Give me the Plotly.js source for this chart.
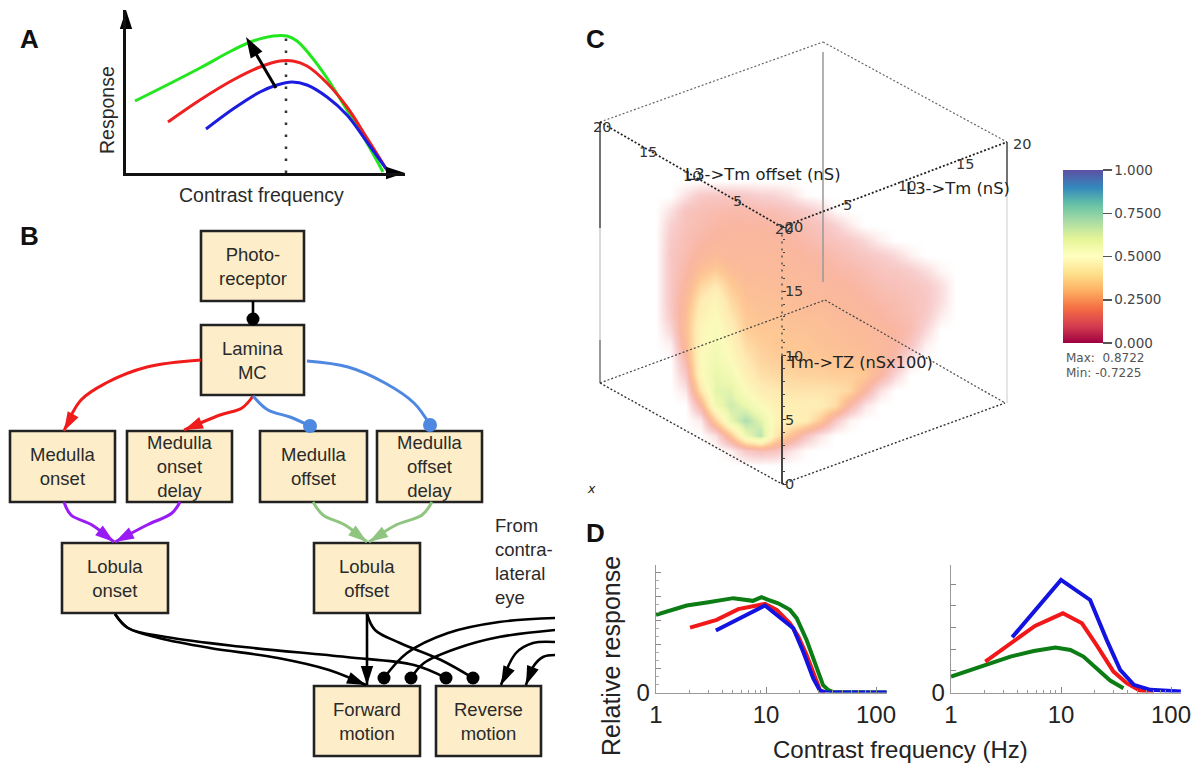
<!DOCTYPE html>
<html><head><meta charset="utf-8">
<script src="https://cdn.plot.ly/plotly-3.0.1.min.js"></script>
<style>html,body{margin:0;padding:0;background:#fff}#chart{width:1200px;height:769px}</style>
</head><body><div id="chart"></div>
<script>
// ---------- Panel A: schematic response curves (axis units run from the origin)
const aGreenX=[9,41,74,107,127,147,161,171,184,201,221,241,257];
const aGreenY=[72,88,105,123,132,137,137,132,118,95,63,30,1];
const aRedX=[42,74,107,134,154,167,181,201,221,241,261];
const aRedY=[51,73,93,106,112,112,107,90,66,35,3];
const aBlueX=[80,107,134,151,166,181,201,221,241,261];
const aBlueY=[44,64,81,88,91,88,76,58,31,3];

// ---------- Panel B: block diagram
const boxes=[
 ["Photo-<br>receptor",201,304,231,301],["Lamina<br>MC",201,304,325,395],
 ["Medulla<br>onset",10,115,431,502],["Medulla<br>onset<br>delay",127,232,431,502],
 ["Medulla<br>offset",260,367,431,502],["Medulla<br>offset<br>delay",377,482,431,502],
 ["Lobula<br>onset",62,168,543,613],["Lobula<br>offset",314,420,543,613],
 ["Forward<br>motion",314,420,686,756],["Reverse<br>motion",436,541,686,756]];
const links=[
 {c:"#000000",e:"dot",x:[253,253],y:[301,319]},
 {c:"#f01c1c",e:"arrow",x:[201,147,106,81,64],y:[360,367,383,400,431]},
 {c:"#f01c1c",e:"arrow",x:[253,242,220,184],y:[396,408,415,430]},
 {c:"#4f88e0",e:"dot",x:[307,348,385,414,430],y:[361,367,383,403,425]},
 {c:"#4f88e0",e:"dot",x:[253,268,290,310],y:[396,410,417,426]},
 {c:"#9a1cf5",e:"arrow",x:[64,71,92,114],y:[502,515,525,542]},
 {c:"#9a1cf5",e:"arrow",x:[180,172,147,115],y:[502,513,525,542]},
 {c:"#8fc57f",e:"arrow",x:[313,323,345,367],y:[502,515,525,542]},
 {c:"#8fc57f",e:"arrow",x:[432,422,396,369],y:[502,515,525,542]},
 {c:"#000000",e:"arrow",x:[115,128,159,210,278,329,366],y:[614,628,638,648,658,670,685]},
 {c:"#000000",e:"dot",x:[115,128,166,244,346,414,446],y:[614,628,637,647,657,665,678]},
 {c:"#000000",e:"arrow",x:[367,367],y:[614,685]},
 {c:"#000000",e:"dot",x:[367,375,400,441,473],y:[614,630,643,660,678]},
 {c:"#000000",e:"dot",x:[555,499,448,407,384],y:[618,622,633,653,678]},
 {c:"#000000",e:"dot",x:[555,499,458,424,411],y:[630,637,648,663,678]},
 {c:"#000000",e:"arrow",x:[555,533,516,501],y:[642,643,653,685]},
 {c:"#000000",e:"arrow",x:[555,543,533,526],y:[655,657,667,685]}];

// ---------- Panel C: colour cloud on a coarse grid
const cloudX=[640,655,670,685,700,715,730,745,760,775,790,805,820,835,850,865,880,895,910,925,940,955];
const cloudY=[180,195,210,225,240,255,270,285,300,315,330,345,360,375,390,405,420,435,450,465];
const cloudZ=[
[0,0,0,0,0,0,0,0,0,0,0,0,0,0,0,0,0,0,0,0,0,0],
[0,0,0,.06,.12,.13,.13,.12,.1,.09,.06,.01,0,0,0,0,0,0,0,0,0,0],
[0,0,.06,.14,.16,.17,.18,.18,.17,.16,.14,.12,.08,.01,0,0,0,0,0,0,0,0],
[0,0,.1,.15,.17,.19,.2,.2,.2,.19,.18,.16,.14,.1,.04,0,0,0,0,0,0,0],
[0,0,.12,.16,.19,.21,.22,.22,.22,.22,.2,.18,.16,.14,.12,.08,.03,0,0,0,0,0],
[0,0,.13,.17,.22,.25,.23,.23,.23,.23,.22,.2,.19,.17,.15,.13,.11,.08,.03,0,0,0],
[0,0,.13,.19,.27,.31,.26,.24,.24,.24,.23,.22,.21,.19,.18,.16,.14,.13,.11,.07,.02,0],
[0,0,.13,.21,.34,.4,.31,.26,.26,.25,.25,.24,.22,.21,.2,.18,.16,.15,.14,.12,.07,0],
[0,0,.13,.24,.4,.47,.35,.28,.27,.27,.26,.25,.24,.23,.22,.2,.18,.17,.15,.13,.07,0],
[0,0,.12,.26,.44,.5,.39,.3,.28,.28,.27,.26,.26,.24,.23,.22,.2,.18,.16,.12,.04,0],
[0,0,.08,.27,.47,.52,.43,.32,.3,.3,.28,.28,.27,.26,.25,.24,.22,.2,.17,.08,0,0],
[0,0,.03,.25,.48,.54,.47,.36,.32,.3,.3,.29,.28,.27,.26,.25,.23,.2,.13,.03,0,0],
[0,0,0,.18,.5,.56,.5,.4,.34,.32,.31,.3,.3,.29,.28,.27,.24,.17,.05,0,0,0],
[0,0,0,.12,.48,.6,.56,.44,.37,.35,.34,.33,.33,.32,.32,.3,.2,.08,0,0,0,0],
[0,0,0,.05,.38,.62,.62,.5,.42,.4,.38,.38,.38,.37,.34,.2,.06,0,0,0,0,0],
[0,0,0,0,.2,.56,.66,.6,.5,.44,.42,.42,.42,.36,.18,.05,0,0,0,0,0,0],
[0,0,0,0,.04,.32,.6,.72,.62,.46,.45,.42,.3,.12,.02,0,0,0,0,0,0,0],
[0,0,0,0,0,.06,.28,.58,.7,.4,.28,.14,.05,0,0,0,0,0,0,0,0,0],
[0,0,0,0,0,0,.03,.12,.16,.14,.06,.01,0,0,0,0,0,0,0,0,0,0],
[0,0,0,0,0,0,0,0,0,0,0,0,0,0,0,0,0,0,0,0,0,0]];
const spectral=[[0,"#9e0142"],[.1,"#d53e4f"],[.2,"#f46d43"],[.3,"#fdae61"],[.4,"#fee08b"],[.5,"#ffffbf"],[.6,"#e6f598"],[.7,"#abdda4"],[.8,"#66c2a5"],[.9,"#3288bd"],[1,"#5e4fa2"]];
const cloudScale=[[0,"rgba(244,110,100,0)"],[.05,"rgba(235,95,95,.16)"],[.1,"rgba(230,85,85,.28)"],[.2,"rgba(244,109,67,.5)"],[.3,"rgba(253,174,97,.68)"],[.4,"rgba(254,224,139,.66)"],[.5,"rgba(250,250,170,.8)"],[.6,"rgba(230,245,152,.8)"],[.7,"rgba(171,221,164,.85)"],[.8,"rgba(102,194,165,.9)"],[1,"rgba(50,136,189,1)"]];
const cubeEdges=[
 {x:[600,823],y:[122,42],c:"#666",w:1.2},{x:[823,1007],y:[42,142],c:"#666",w:1.2},
 {x:[600,782],y:[122,227],c:"#222",w:1.8},{x:[782,1007],y:[227,142],c:"#222",w:1.8},
 {x:[600,825],y:[383,300],c:"#444",w:1.2},{x:[825,1005],y:[300,403],c:"#444",w:1.2},
 {x:[600,782],y:[383,484],c:"#333",w:1.4},{x:[782,1005],y:[484,403],c:"#333",w:1.4}];
const cubeSolid=[
 {x:[600,600],y:[122,228],c:"#444"},{x:[600,600],y:[228,340],c:"#ccc"},{x:[600,600],y:[340,383],c:"#777"},
 {x:[1007,1007],y:[142,185],c:"#444"},{x:[1007,1007],y:[185,403],c:"#ddd"},{x:[823,823],y:[52,282],c:"#999"}];
const cTicksZ=[0,5,10,15,20];
const cLabels=[["20",602,127],["15",648,152],["10",692,176],["5",737,201],["20",784,229],
 ["5",847,205],["10",907,186],["15",965,164],["20",1022,144]];
const barTicks=[0,.25,.5,.75,1], barLabels=["0.000","0.2500","0.5000","0.7500","1.000"];

// ---------- Panel D: frequency tuning (Hz, relative response)
const d1GreenX=[1,1.9,2.9,5.05,7.6,9.1,10.5,12.9,16.5,19,23.4,28.9,33,37,41,125];
const d1GreenY=[.609,.682,.706,.74,.719,.748,.727,.70,.648,.583,.412,.189,.058,.018,.003,0];
const d1RedX=[2.04,3.56,5.6,9.8,12.5,16.5,19.7,23.4,31,34.5];
const d1RedY=[.509,.57,.654,.695,.648,.543,.438,.294,.018,0];
const d1BlueX=[3.5,9.8,17.7,21.8,26.9,31,35.6,125];
const d1BlueY=[.486,.682,.504,.32,.11,.013,0,0];
const d2GreenX=[1,1.98,3.47,5.65,8.9,12.2,16,21,28,37];
const d2GreenY=[.125,.209,.282,.326,.352,.334,.282,.19,.094,.034];
const d2RedX=[2.05,3.7,5.8,10.4,15.5,21,30,39.6,52,70];
const d2RedY=[.243,.40,.522,.621,.543,.373,.164,.073,.016,0];
const d2BlueX=[3.6,10,18.4,26,34.5,46,65,92,123];
const d2BlueY=[.433,.883,.726,.413,.178,.06,.021,.01,.008];
const freqTicks=[1,10,100], freqLabels=["1","10","100"];
const freqMinor=[2,3,4,5,6,7,8,9,20,30,40,50,60,70,80,90];

const colGreen="#0b7d14",colRed="#f01818",colBlue="#1414e0";
const sans="Liberation Sans, Arial, sans-serif", dv="DejaVu Sans, Verdana, sans-serif";
const dx=p=>p/1200, dy=p=>1-p/769;

const traces=[];
// cube
cubeSolid.forEach(e=>traces.push({type:"scatter",mode:"lines",x:e.x,y:e.y,line:{color:e.c,width:1.5}}));
traces.push({type:"heatmap",x:cloudX,y:cloudY,z:cloudZ,zmin:0,zmax:1,zsmooth:"best",colorscale:cloudScale,showscale:false,hoverinfo:"skip"});
cubeEdges.forEach(e=>traces.push({type:"scatter",mode:"lines",x:e.x,y:e.y,line:{color:e.c,width:e.w,dash:"2px,2px"}}));
traces.push({type:"scatter",mode:"lines",x:[782,782],y:[0,10],yaxis:"y6",line:{color:"#333",width:1.8}});
traces.push({type:"scatter",mode:"lines",x:[782,782],y:[10,20],yaxis:"y6",line:{color:"#555",width:1.5,dash:"2px,5px"}});
// colour bar
traces.push({type:"heatmap",x:[1083,1084],y:[255,256],z:[[0,1],[0,1]],zmin:0,zmax:1,colorscale:spectral,hoverinfo:"skip",
 colorbar:{x:dx(1063),xanchor:"left",xpad:0,y:dy(256.5),yanchor:"middle",ypad:0,len:173,lenmode:"pixels",thickness:40,thicknessmode:"pixels",
  outlinewidth:0,ticks:"outside",ticklen:9,tickwidth:1.5,tickcolor:"#555",tickmode:"array",tickvals:barTicks,ticktext:barLabels,
  tickfont:{family:dv,size:13.5,color:"#444"}}});
// links
links.forEach(l=>{
 const n=l.x.length, sizes=l.x.map((_,i)=>i===n-1?(l.e==="dot"?(l.c==="#000000"?13:14):20):0);
 traces.push({type:"scatter",mode:"lines+markers",x:l.x,y:l.y,cliponaxis:false,
  line:{color:l.c,width:l.c==="#000000"?2.6:3,shape:"spline",smoothing:1},
  marker:{color:l.c,opacity:1,size:sizes,symbol:l.e==="dot"?"circle":"arrow",angleref:"previous",line:{width:0}}});
});
// panel A
const aTrace=(x,y,c)=>({type:"scatter",mode:"lines",x,y,xaxis:"x2",yaxis:"y2",cliponaxis:false,line:{color:c,width:3,shape:"spline",smoothing:1}});
traces.push({type:"scatter",mode:"lines",x:[160,160],y:[0,136],xaxis:"x2",yaxis:"y2",line:{color:"#333",width:2.5,dash:"2.5px,9.5px"}});
traces.push(aTrace(aGreenX,aGreenY,"#22e61e"),aTrace(aRedX,aRedY,"#ee2020"),aTrace(aBlueX,aBlueY,"#1c1ce0"));
traces.push({type:"scatter",mode:"lines+markers",x:[150,120],y:[85,136],xaxis:"x2",yaxis:"y2",cliponaxis:false,line:{color:"#000",width:3},
 marker:{color:"#000",opacity:1,size:[0,22],symbol:"arrow",angleref:"previous",line:{width:0}}});
traces.push({type:"scatter",mode:"markers",x:[279,0],y:[0,163],xaxis:"x2",yaxis:"y2",cliponaxis:false,
 marker:{color:"#000",opacity:1,size:20,symbol:"arrow",angle:[90,0],line:{width:0}}});
// panel D
const dTrace=(x,y,c,ax,ay)=>({type:"scatter",mode:"lines",x,y,xaxis:ax,yaxis:ay,cliponaxis:false,line:{color:c,width:4}});
traces.push(dTrace(d1RedX,d1RedY,colRed,"x3","y3"),dTrace(d1GreenX,d1GreenY,colGreen,"x3","y3"),dTrace(d1BlueX,d1BlueY,colBlue,"x3","y3"));
traces.push(dTrace(d2GreenX,d2GreenY,colGreen,"x4","y4"),dTrace(d2RedX,d2RedY,colRed,"x4","y4"),dTrace(d2BlueX,d2BlueY,colBlue,"x4","y4"));

const anns=[];
const txt=(t,x,y,o={})=>anns.push(Object.assign({text:t,x,y,xref:"x",yref:"y",showarrow:false,xanchor:"center",yanchor:"middle",
 font:Object.assign({family:sans,size:18.5,color:"#2a2a2a"},o.font||{})},o.a||{}));
boxes.forEach(b=>txt(b[0],(b[1]+b[2])/2,(b[3]+b[4])/2));
[["A",29,39],["B",29,236],["C",595,39],["D",595,533]].forEach(p=>txt("<b>"+p[0]+"</b>",p[1],p[2],{font:{size:26,color:"#111"}}));
txt("Contrast frequency",261,195,{font:{size:19.5}});
txt("Response",107,110,{font:{size:19.5},a:{textangle:-90}});
txt("From<br>contra-<br>lateral<br>eye",493,561,{a:{xanchor:"left",align:"left"}});
cLabels.forEach(l=>txt(l[0],l[1],l[2],{font:{family:dv,size:14.5,color:"#333"}}));
txt("L3->Tm offset (nS)",763,174,{font:{family:dv,size:16.4,color:"#222"}});
txt("L3->Tm (nS)",958,188,{font:{family:dv,size:16.4,color:"#222"}});
txt("Tm->TZ (nSx100)",860,362,{font:{family:dv,size:16.2,color:"#222"}});
txt("<i>x</i>",591,488,{font:{family:dv,size:12.5,color:"#222"}});
txt("Max:  0.8722",1064,358,{font:{family:dv,size:12,color:"#555"},a:{xanchor:"left"}});
txt("Min: -0.7225",1064,373,{font:{family:dv,size:12,color:"#555"},a:{xanchor:"left"}});
txt("Relative response",611,656,{font:{size:25,color:"#222"},a:{textangle:-90}});
txt("Contrast frequency (Hz)",900,749,{font:{size:24,color:"#222"}});

const hid={visible:false,fixedrange:true,zeroline:false,showgrid:false};
const freqAxis=(a,b)=>({type:"log",domain:[dx(a),dx(b)],range:[0,(b-a)/110],showline:true,linecolor:"#999",linewidth:1.3,showgrid:false,zeroline:false,
 tickmode:"array",tickvals:freqTicks,ticktext:freqLabels,ticks:"inside",ticklen:6,tickcolor:"#888",tickfont:{family:sans,size:24,color:"#222"},
 minor:{tickmode:"array",tickvals:freqMinor,ticks:"inside",ticklen:3,tickcolor:"#999"},fixedrange:true});
const respAxis=(anchor,major,minorStep)=>({domain:[dy(692.5),dy(565)],range:[0,1],anchor,showline:true,linecolor:"#999",linewidth:1.3,showgrid:false,zeroline:false,
 tickmode:"array",tickvals:major,ticktext:major.map((v,i)=>i?"":"0"),ticks:"inside",ticklen:5,tickcolor:"#888",tickfont:{family:sans,size:24,color:"#222"},
 minor:minorStep?{dtick:minorStep,ticks:"inside",ticklen:3,tickcolor:"#aaa"}:undefined,fixedrange:true});

const layout={width:1200,height:769,margin:{l:0,r:0,t:0,b:0},paper_bgcolor:"#fff",plot_bgcolor:"rgba(0,0,0,0)",showlegend:false,hovermode:false,
 xaxis:Object.assign({domain:[0,1],range:[0,1200]},hid),
 yaxis:Object.assign({domain:[0,1],range:[769,0]},hid),
 xaxis2:{domain:[dx(126),dx(405)],range:[0,279],anchor:"y2",showline:true,linecolor:"#111",linewidth:3,showticklabels:false,ticks:"",showgrid:false,zeroline:false,fixedrange:true},
 yaxis2:{domain:[dy(173),dy(10)],range:[0,163],anchor:"x2",showline:true,linecolor:"#111",linewidth:3,showticklabels:false,ticks:"",showgrid:false,zeroline:false,fixedrange:true},
 xaxis3:Object.assign(freqAxis(656,887),{anchor:"y3"}),
 yaxis3:respAxis("x3",[0,.189,.378,.567,.756,.945],.063),
 xaxis4:Object.assign(freqAxis(951,1181),{anchor:"y4"}),
 yaxis4:respAxis("x4",[0,.17,.34,.51,.68,.85],0),
 yaxis6:{domain:[dy(484),dy(227)],range:[0,20],anchor:"free",position:dx(782),side:"right",showline:false,showgrid:false,zeroline:false,
  tickmode:"array",tickvals:cTicksZ,ticks:"outside",ticklen:3,ticklabelstandoff:-4,tickcolor:"#333",tickfont:{family:dv,size:14.5,color:"#333"},
  minor:{dtick:1,ticks:"outside",ticklen:2,tickcolor:"#444"},fixedrange:true},
 shapes:boxes.map(b=>({type:"rect",xref:"x",yref:"y",x0:b[1],x1:b[2],y0:b[3],y1:b[4],fillcolor:"#fdeec9",line:{color:"#222",width:2.6},layer:"below"})),
 annotations:anns};
Plotly.newPlot("chart",traces,layout,{staticPlot:true,displayModeBar:false});
</script></body></html>
